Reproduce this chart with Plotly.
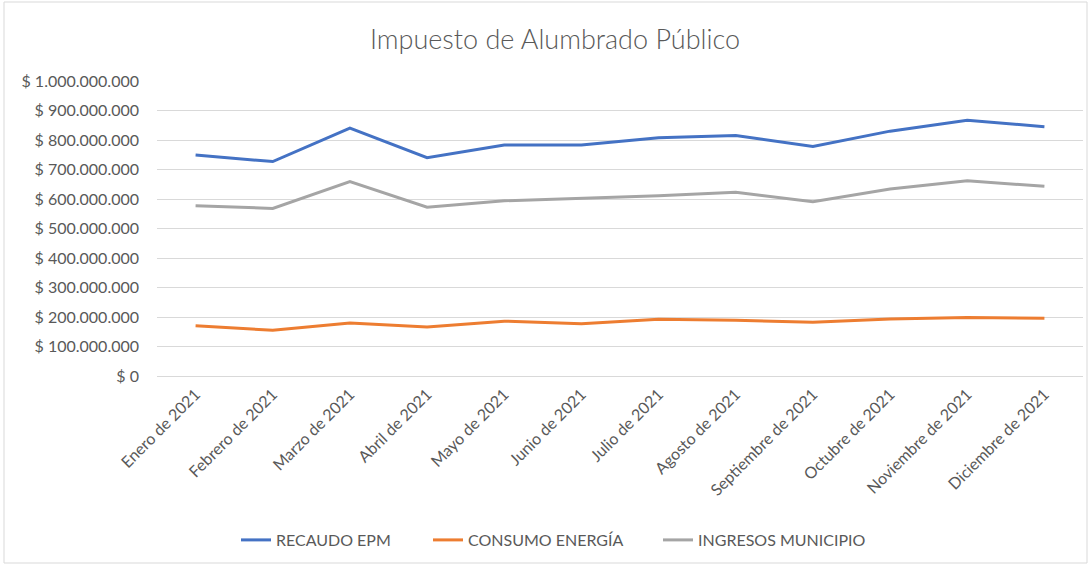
import plotly.graph_objects as go

months = ["Enero de 2021", "Febrero de 2021", "Marzo de 2021", "Abril de 2021",
          "Mayo de 2021", "Junio de 2021", "Julio de 2021", "Agosto de 2021",
          "Septiembre de 2021", "Octubre de 2021", "Noviembre de 2021", "Diciembre de 2021"]
recaudo_epm = [749e6, 727e6, 840e6, 740e6, 783e6, 783e6, 808e6, 815e6, 778e6, 830e6, 867e6, 845e6]
consumo_energia = [170e6, 155e6, 180e6, 166e6, 186e6, 177e6, 192e6, 189e6, 182e6, 193e6, 198e6, 196e6]
ingresos_municipio = [577e6, 568e6, 659e6, 572e6, 594e6, 602e6, 611e6, 623e6, 591e6, 634e6, 662e6, 643e6]
y_ticks = [i * 100_000_000 for i in range(11)]
y_tick_text = ["$ " + f"{v:,}".replace(",", ".") for v in y_ticks]

FONT = "Lato, 'Open Sans', sans-serif"
TXT = "#595959"

W, H = 1091, 565
ml, mr, mt, mb = 157, 8, 81, 189
pw, ph = W - ml - mr, H - mt - mb

series = [("RECAUDO EPM", recaudo_epm, "#4472C4", "legend", 236),
          ("CONSUMO ENERGÍA", consumo_energia, "#ED7D31", "legend2", 428),
          ("INGRESOS MUNICIPIO", ingresos_municipio, "#A5A5A5", "legend3", 658)]

fig = go.Figure()
legends = {}
for name, vals, col, lg, lx in series:
    fig.add_trace(go.Scatter(x=months, y=vals, mode="lines", name=name, legend=lg,
                             line=dict(color=col, width=3)))
    legends[lg] = dict(orientation="h", xref="container", yref="container",
                       x=lx / W, xanchor="left", y=1 - 540 / H, yanchor="middle",
                       font=dict(size=16, color=TXT), bgcolor="rgba(0,0,0,0)")

fig.update_layout(
    width=W, height=H,
    margin=dict(l=ml, r=mr, t=mt, b=mb),
    paper_bgcolor="white", plot_bgcolor="white",
    font=dict(family=FONT, color=TXT, size=16),
    title=dict(text="Impuesto de Alumbrado Público", x=555 / W, xanchor="center",
               y=1 - 40 / H, yanchor="middle",
               font=dict(size=27, color=TXT, weight=300)),
    xaxis=dict(range=[-0.5, 11.5], tickangle=-45, showgrid=False, showline=False,
               ticks="", tickfont=dict(size=16, color=TXT), fixedrange=True,
               automargin=False, ticklabelstandoff=5),
    yaxis=dict(range=[0, 1_000_000_000], tickvals=y_ticks, ticktext=y_tick_text,
               showgrid=True, gridcolor="#D9D9D9", gridwidth=1,
               zeroline=True, zerolinecolor="#D9D9D9", zerolinewidth=1,
               ticks="", ticklabelstandoff=17, automargin=False, fixedrange=True,
               tickfont=dict(size=16, color=TXT)),
    showlegend=True,
    **legends,
)

# chart border
fig.add_shape(type="rect", xref="paper", yref="paper",
              x0=(4 - ml) / pw, x1=(1087 - ml) / pw,
              y0=-(563 - mt - ph) / ph, y1=1 + (mt - 2) / ph,
              line=dict(color="#D9D9D9", width=1), layer="below")

fig.write_html("out.html", config={"displayModeBar": False},
               post_script="document.body.style.margin='0';document.body.style.padding='0';")
